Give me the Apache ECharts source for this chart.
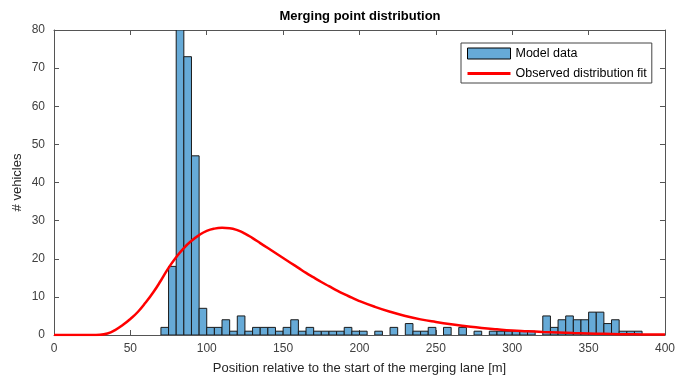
<!DOCTYPE html>
<html>
<head>
<meta charset="utf-8">
<script src="https://cdn.jsdelivr.net/npm/echarts@6/dist/echarts.min.js"></script>
<style>
  html, body { margin: 0; padding: 0; background: #fff; }
  #chart { width: 678px; height: 381px; }
</style>
</head>
<body>
<div id="chart"></div>
<script>
// histogram bins (left edge, width 5 m) and counts
const binWidth = 5
const binStarts = [70, 75, 80, 85, 90, 95, 100, 105, 110, 115, 120, 125, 130, 135, 140, 145, 150, 155, 160, 165,
  170, 175, 180, 185, 190, 195, 200, 205, 210, 215, 220, 225, 230, 235, 240, 245, 250, 255, 260, 265,
  270, 275, 280, 285, 290, 295, 300, 305, 310, 315, 320, 325, 330, 335, 340, 345, 350, 355, 360, 365,
  370, 375, 380]
const binCounts = [2, 18, 80, 73, 47, 7, 2, 2, 4, 1, 5, 1, 2, 2, 2, 1, 2, 4, 1, 2,
  1, 1, 1, 1, 2, 1, 1, 0, 1, 0, 2, 0, 3, 1, 1, 2, 0, 2, 0, 2,
  0, 1, 0, 1, 1, 1, 1, 1, 1, 0, 5, 2, 4, 5, 4, 4, 6, 6, 3, 4,
  1, 1, 1]

// fitted distribution curve
const fitX = [0, 10, 20, 25, 30, 35, 40, 45, 50, 55, 60, 65, 70, 75, 80, 85, 90, 95, 100, 105,
  110, 115, 120, 125, 130, 135, 140, 145, 150, 155, 160, 165, 170, 175, 180, 185, 190, 195, 200, 210,
  220, 230, 240, 250, 260, 270, 280, 290, 300, 310, 320, 330, 340, 350, 360, 370, 380, 390, 400]
const fitY = [0, 0, 0, 0, 0.05, 0.4, 1.3, 2.6, 4.2, 6.1, 8.5, 11.2, 14.3, 17.6, 20.4, 22.8, 24.7, 26.2, 27.3, 27.9,
  28.1, 28.0, 27.5, 26.6, 25.4, 24.1, 22.8, 21.5, 20.2, 18.9, 17.6, 16.3, 15.1, 13.9, 12.8, 11.7, 10.7, 9.8, 8.9, 7.4,
  6.1, 5.0, 4.1, 3.4, 2.8, 2.3, 1.85, 1.5, 1.2, 1.0, 0.8, 0.65, 0.5, 0.4, 0.3, 0.22, 0.17, 0.13, 0.1]

const xTicks = { min: 0, max: 400, interval: 50 }
const yTicks = { min: 0, max: 80, interval: 10 }

const chart = echarts.init(document.getElementById('chart'))

const axisColor = '#555'
const labelColor = '#404040'
const fontFamily = 'Liberation Sans, Arial, sans-serif'

// box style axes, ticks pointing inward
function boxAxis(extra) {
  return Object.assign({
    type: 'value',
    axisLine: { show: true, onZero: false, lineStyle: { color: axisColor, width: 1 } },
    axisTick: { show: true, inside: true, length: 5, lineStyle: { color: axisColor } },
    splitLine: { show: false },
    axisLabel: { show: false }
  }, extra)
}

chart.setOption({
  backgroundColor: '#fff',
  animation: false,
  textStyle: { fontFamily: fontFamily },
  graphic: [{
    type: 'text',
    x: 360,
    y: 10,
    style: {
      text: 'Merging point distribution',
      textAlign: 'center',
      fontSize: 13,
      fontWeight: 'bold',
      fontFamily: fontFamily,
      fill: '#000'
    }
  }],
  grid: { left: 54, right: 12, top: 30, bottom: 46 },
  legend: {
    orient: 'vertical',
    left: 461,
    top: 43,
    padding: [4, 5, 3, 6],
    itemWidth: 43,
    itemHeight: 11,
    itemGap: 7,
    borderColor: '#444',
    borderWidth: 1,
    backgroundColor: '#fff',
    textStyle: { fontSize: 12.5, color: '#000', fontFamily: fontFamily },
    data: [
      { name: 'Model data', icon: 'rect', itemStyle: { color: '#66aad7', borderColor: '#000', borderWidth: 1 } },
      { name: 'Observed distribution fit', icon: 'path://M0,0 L43,0 L43,3 L0,3 Z', itemStyle: { color: '#ff0000' } }
    ]
  },
  xAxis: [
    boxAxis({
      min: xTicks.min, max: xTicks.max, interval: xTicks.interval,
      position: 'bottom',
      name: 'Position relative to the start of the merging lane [m]',
      nameLocation: 'middle',
      nameGap: 27,
      nameTextStyle: { fontSize: 13, color: '#262626' },
      axisLabel: { show: true, fontSize: 12, color: labelColor, margin: 8 }
    }),
    boxAxis({ min: xTicks.min, max: xTicks.max, interval: xTicks.interval, position: 'top' })
  ],
  yAxis: [
    boxAxis({
      min: yTicks.min, max: yTicks.max, interval: yTicks.interval,
      position: 'left',
      name: '# vehicles',
      nameLocation: 'middle',
      nameGap: 30,
      nameMoveOverlap: false,
      nameTextStyle: { fontSize: 13, color: '#262626' },
      axisLabel: { show: true, fontSize: 12, color: labelColor, margin: 9 }
    }),
    boxAxis({ min: yTicks.min, max: yTicks.max, interval: yTicks.interval, position: 'right' })
  ],
  series: [
    {
      name: 'Model data',
      type: 'custom',
      xAxisIndex: 0,
      yAxisIndex: 0,
      z: 2,
      clip: true,
      itemStyle: { color: '#66aad7' },
      data: binStarts.map((x, i) => [x, binCounts[i]]),
      renderItem: (params, api) => {
        const x0 = api.value(0)
        const h = api.value(1)
        if (!h) return null
        const p0 = api.coord([x0, 0])
        const p1 = api.coord([x0 + binWidth, h])
        return {
          type: 'rect',
          shape: { x: p0[0], y: p1[1], width: p1[0] - p0[0], height: p0[1] - p1[1] },
          style: { fill: '#66aad7', stroke: '#1a1a1a', lineWidth: 1 }
        }
      }
    },
    {
      name: 'Observed distribution fit',
      type: 'line',
      xAxisIndex: 0,
      yAxisIndex: 0,
      z: 3,
      smooth: 0.5,
      symbol: 'none',
      color: '#ff0000',
      lineStyle: { color: '#ff0000', width: 2.5 },
      data: fitX.map((x, i) => [x, fitY[i]])
    }
  ]
})
</script>
</body>
</html>
